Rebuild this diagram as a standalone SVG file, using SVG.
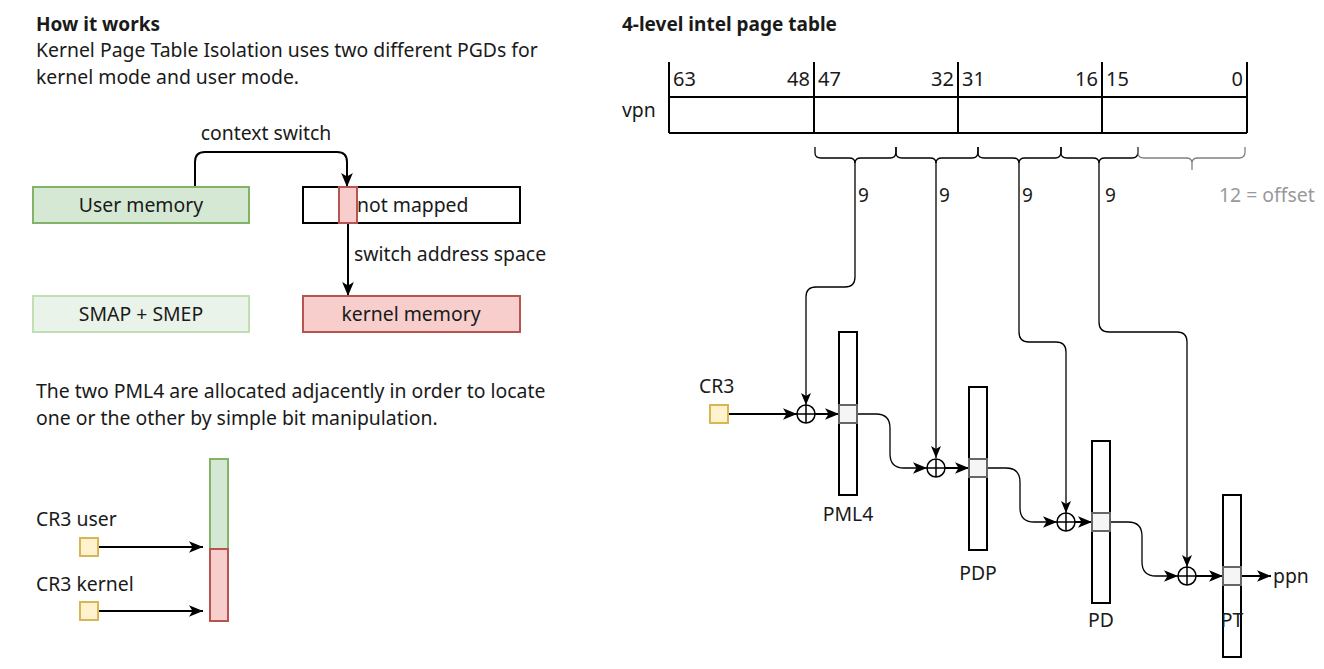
<svg xmlns="http://www.w3.org/2000/svg" width="1324" height="669" viewBox="0 0 1324 669">
<defs>
<style>
text{font-family:"Noto Sans","Open Sans",sans-serif;font-size:19.4px;fill:#1a1a1a}
.b{font-weight:bold;font-size:19px}
.m{text-anchor:middle}
.e{text-anchor:end}
.g{fill:#999999}
.n{font-size:19px}
.num{font-size:20px}
.ln{fill:none;stroke:#000;stroke-width:1.3}
.ar{fill:none;stroke:#000;stroke-width:2}
.cell{fill:#f5f5f5;stroke:#666666;stroke-width:2}
.col{fill:#fff;stroke:#000;stroke-width:2}
.cr{fill:#fff2cc;stroke:#d6b656;stroke-width:2}
.xr{fill:none;stroke:#000;stroke-width:1.5}
</style>
<marker id="ah" viewBox="0 0 12 10" refX="12" refY="5" markerWidth="12" markerHeight="10" markerUnits="userSpaceOnUse" orient="auto">
<path d="M0,0 L12,5 L0,10 L3,5 Z" fill="#000"/>
</marker>
<marker id="ahb" viewBox="0 0 12 10" refX="12" refY="5" markerWidth="14" markerHeight="12" markerUnits="userSpaceOnUse" orient="auto">
<path d="M0,0 L12,5 L0,10 L3,5 Z" fill="#000"/>
</marker>
</defs>
<rect width="1324" height="669" fill="#fff"/>

<g id="intro">
<text x="36" y="31" class="b">How it works</text>
<text x="36" y="57">Kernel Page Table Isolation uses two different PGDs for</text>
<text x="36" y="84">kernel mode and user mode.</text>
</g>

<g id="connectors-left">
<path class="ar" d="M195,187 V162 Q195,152 205,152 H337 Q347,152 347,162 V187" marker-end="url(#ahb)"/>
<text x="266" y="140" class="m">context switch</text>
<path class="ar" d="M348,223 V296" marker-end="url(#ahb)"/>
<text x="354" y="261">switch address space</text>
<path class="ar" d="M98,547 H203" marker-end="url(#ahb)"/>
<path class="ar" d="M98,611 H203" marker-end="url(#ahb)"/>
</g>

<g id="user-memory">
<rect x="33" y="187" width="216" height="36" fill="#d5e8d4" stroke="#82b366" stroke-width="2"/>
<text x="141" y="212" class="m">User memory</text>
</g>
<g id="not-mapped">
<rect x="303" y="187" width="217" height="36" fill="#fff" stroke="#000" stroke-width="2"/>
<rect x="339" y="187" width="18" height="36" fill="#f8cecc" stroke="#b85450" stroke-width="2"/>
<text x="357" y="212">not mapped</text>
</g>
<g id="smap-smep">
<rect x="33" y="296" width="216" height="36" fill="#eaf3e9" stroke="#c0dfb2" stroke-width="2"/>
<text x="141" y="321" class="m">SMAP + SMEP</text>
</g>
<g id="kernel-memory">
<rect x="303" y="296" width="217" height="36" fill="#f8cecc" stroke="#b85450" stroke-width="2"/>
<text x="411" y="321" class="m">kernel memory</text>
</g>

<g id="pml4-note">
<text x="36" y="398">The two PML4 are allocated adjacently in order to locate</text>
<text x="36" y="425">one or the other by simple bit manipulation.</text>
</g>

<g id="cr3-user">
<text x="36" y="526">CR3 user</text>
<rect x="80" y="538" width="18" height="18" class="cr"/>
</g>
<g id="cr3-kernel">
<text x="36" y="591">CR3 kernel</text>
<rect x="80" y="602" width="18" height="18" class="cr"/>
</g>
<g id="pml4-pair">
<rect x="210" y="459" width="18" height="90" fill="#d5e8d4" stroke="#82b366" stroke-width="2"/>
<rect x="210" y="549" width="18" height="72" fill="#f8cecc" stroke="#b85450" stroke-width="2"/>
</g>

<g id="title-right">
<text x="622" y="31" class="b">4-level intel page table</text>
</g>

<g id="vpn-table">
<text x="622" y="117">vpn</text>
<path d="M669,62 V133 M814,62 V133 M958,62 V133 M1102,62 V133 M1247,62 V133 M669,97 H1247 M669,133 H1247" stroke="#000" stroke-width="2" fill="none"/>
<text x="673" y="86" class="num">63</text>
<text x="810" y="86" class="e num">48</text>
<text x="818" y="86" class="num">47</text>
<text x="954" y="86" class="e num">32</text>
<text x="962" y="86" class="num">31</text>
<text x="1098" y="86" class="e num">16</text>
<text x="1106" y="86" class="num">15</text>
<text x="1243" y="86" class="e num">0</text>
</g>

<g id="braces">
<path class="ln" d="M815,147 V153 Q815,158 821,158 H849 Q855,158 855,163 Q855,158 861,158 H890 Q896,158 896,152 V147"/>
<path class="ln" d="M896,147 V153 Q896,158 902,158 H930 Q936,158 936,163 Q936,158 942,158 H972 Q978,158 978,152 V147"/>
<path class="ln" d="M978,147 V153 Q978,158 984,158 H1013 Q1019,158 1019,163 Q1019,158 1025,158 H1055 Q1061,158 1061,152 V147"/>
<path class="ln" d="M1061,147 V153 Q1061,158 1067,158 H1093 Q1099,158 1099,163 Q1099,158 1105,158 H1132 Q1138,158 1138,152 V147"/>
<path d="M1138,147 V153 Q1138,158 1144,158 H1186 Q1192,158 1192,163 Q1192,158 1198,158 H1239 Q1245,158 1245,152 V147 M1192,163 V170" fill="none" stroke="#808080" stroke-width="1.3"/>
<text x="858" y="202" class="n">9</text>
<text x="939" y="202" class="n">9</text>
<text x="1022" y="202" class="n">9</text>
<text x="1105" y="202" class="n">9</text>
<text x="1219" y="202" class="g">12 = offset</text>
</g>

<g id="connectors-right">
<path class="ln" d="M855,162 V277 Q855,287 845,287 H816 Q806,287 806,297 V405" marker-end="url(#ah)"/>
<path class="ln" d="M936,162 V458" marker-end="url(#ah)"/>
<path class="ln" d="M1019,162 V332 Q1019,342 1029,342 H1056 Q1066,342 1066,352 V513" marker-end="url(#ah)"/>
<path class="ln" d="M1099,162 V322 Q1099,332 1109,332 H1177 Q1187,332 1187,342 V567" marker-end="url(#ah)"/>
<path class="ar" d="M728,414 H797" marker-end="url(#ahb)"/>
<path class="ar" d="M815,414 H839" marker-end="url(#ahb)"/>
<path class="ar" d="M945,468 H969" marker-end="url(#ahb)"/>
<path class="ar" d="M1075,522 H1092" marker-end="url(#ahb)"/>
<path class="ar" d="M1196,576 H1223" marker-end="url(#ahb)"/>
<path class="ln" d="M857,414 H876 Q890,414 890,428 V454 Q890,468 904,468 H927" marker-end="url(#ahb)" stroke-width="1.5"/>
<path class="ln" d="M987,468 H1006 Q1020,468 1020,482 V508 Q1020,522 1034,522 H1057" marker-end="url(#ahb)" stroke-width="1.5"/>
<path class="ln" d="M1110,522 H1128 Q1142,522 1142,536 V562 Q1142,576 1156,576 H1178" marker-end="url(#ahb)" stroke-width="1.5"/>
<path class="ar" d="M1241,576 H1271" marker-end="url(#ahb)"/>
</g>

<g id="xor1"><circle cx="806" cy="414" r="9" fill="#fff" stroke="#000" stroke-width="1.5"/><path class="xr" d="M797,414 H815 M806,405 V423"/></g>
<g id="xor2"><circle cx="936" cy="468" r="9" fill="#fff" stroke="#000" stroke-width="1.5"/><path class="xr" d="M927,468 H945 M936,459 V477"/></g>
<g id="xor3"><circle cx="1066" cy="522" r="9" fill="#fff" stroke="#000" stroke-width="1.5"/><path class="xr" d="M1057,522 H1075 M1066,513 V531"/></g>
<g id="xor4"><circle cx="1187" cy="576" r="9" fill="#fff" stroke="#000" stroke-width="1.5"/><path class="xr" d="M1178,576 H1196 M1187,567 V585"/></g>

<g id="cr3">
<text x="699" y="393">CR3</text>
<rect x="710" y="405" width="18" height="18" class="cr"/>
</g>
<g id="pml4">
<rect x="839" y="332" width="18" height="163" class="col"/>
<rect x="839" y="405" width="18" height="18" class="cell"/>
<text x="848" y="521" class="m">PML4</text>
</g>
<g id="pdp">
<rect x="969" y="387" width="18" height="163" class="col"/>
<rect x="969" y="459" width="18" height="18" class="cell"/>
<text x="978" y="580" class="m">PDP</text>
</g>
<g id="pd">
<rect x="1092" y="441" width="18" height="162" class="col"/>
<rect x="1092" y="513" width="18" height="18" class="cell"/>
<text x="1101" y="627" class="m">PD</text>
</g>
<g id="pt">
<rect x="1223" y="495" width="18" height="162" class="col"/>
<rect x="1223" y="567" width="18" height="18" class="cell"/>
<text x="1232" y="627" class="m">PT</text>
</g>
<g id="ppn">
<text x="1273" y="583">ppn</text>
</g>
</svg>
